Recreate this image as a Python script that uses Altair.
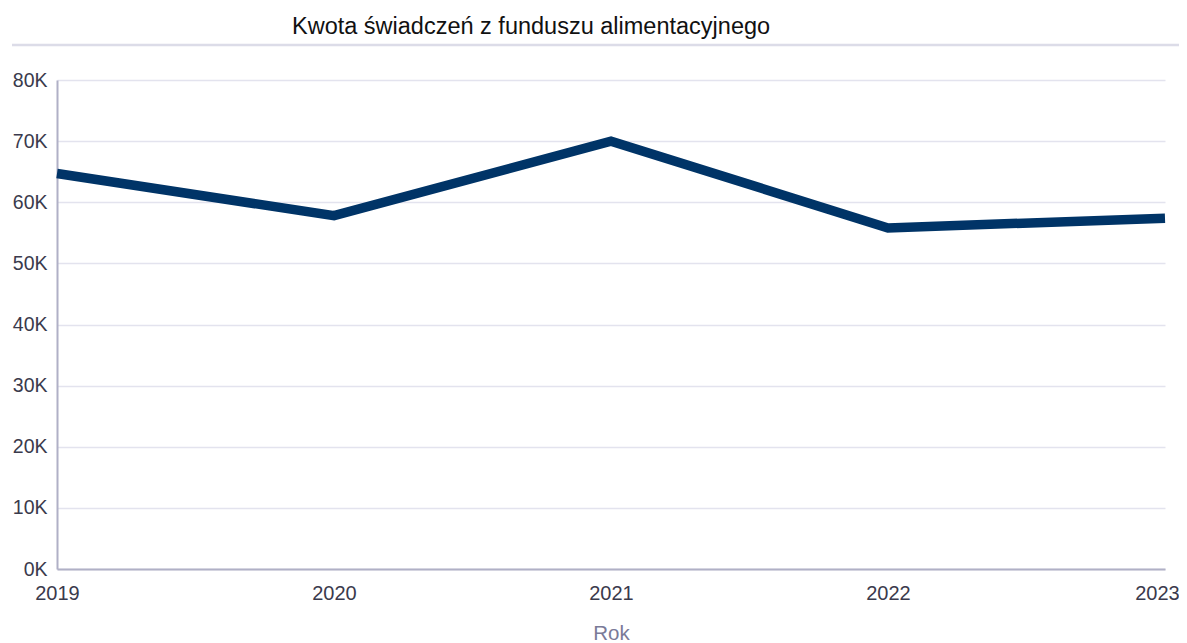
import altair as alt
import pandas as pd

years = [2019, 2020, 2021, 2022, 2023]
amounts = [64700, 57800, 70000, 55800, 57400]
y_ticks = [0, 10000, 20000, 30000, 40000, 50000, 60000, 70000, 80000]

title_text = "Kwota świadczeń z funduszu alimentacyjnego"
x_title = "Rok"

df = pd.DataFrame({"Rok": years, "Kwota": amounts})

FONT = "Liberation Sans"

line = alt.Chart(df).mark_line(
    color="#003467", strokeWidth=9.5, strokeCap="butt", strokeJoin="miter"
).encode(
    x=alt.X(
        "Rok:Q",
        scale=alt.Scale(domain=[2019, 2023], nice=False, zero=False),
        axis=alt.Axis(
            values=years, format="d", title=x_title, grid=False, ticks=False,
            labelFlush=False,
            labelOffset={"condition": {"test": "datum.value == 2023", "value": -8}, "value": 0},
            labelFontSize=20, labelColor="#3a3a4c", labelPadding=14, labelFont=FONT,
            domainColor="#b0b0c6", domainWidth=2,
            titleFontSize=20.5, titleColor="#7a7a98", titleFontWeight="normal",
            titlePadding=20, titleFont=FONT,
        ),
    ),
    y=alt.Y(
        "Kwota:Q",
        scale=alt.Scale(domain=[0, 80000], nice=False),
        axis=alt.Axis(
            values=y_ticks, labelExpr="datum.value / 1000 + 'K'", title=None,
            ticks=False, labelFontSize=19.5, labelColor="#3a3a4c", labelPadding=10,
            labelFont=FONT, gridColor="#e3e3ee", gridWidth=1.5,
            domainColor="#b0b0c6", domainWidth=2,
        ),
    ),
)

sep = alt.Chart(pd.DataFrame({"a": [0]})).mark_rule(
    color="#dcdce8", strokeWidth=2.5
).encode(
    x=alt.value(-45), x2=alt.value(1122), y=alt.value(-35)
)

chart = alt.layer(sep, line).properties(
    width=1108,
    height=489,
    autosize=alt.AutoSizeParams(type="none"),
    padding={"left": 49, "top": 72, "right": 14, "bottom": 74},
    title=alt.TitleParams(
        text=title_text, anchor="start", frame="group", dx=235, offset=0, dy=14,
        baseline="alphabetic", fontSize=23.5, fontWeight="normal",
        color="#111111", font=FONT,
    ),
).configure_view(stroke=None)

chart.save("out.html", embed_options={"renderer": "svg", "actions": False})
